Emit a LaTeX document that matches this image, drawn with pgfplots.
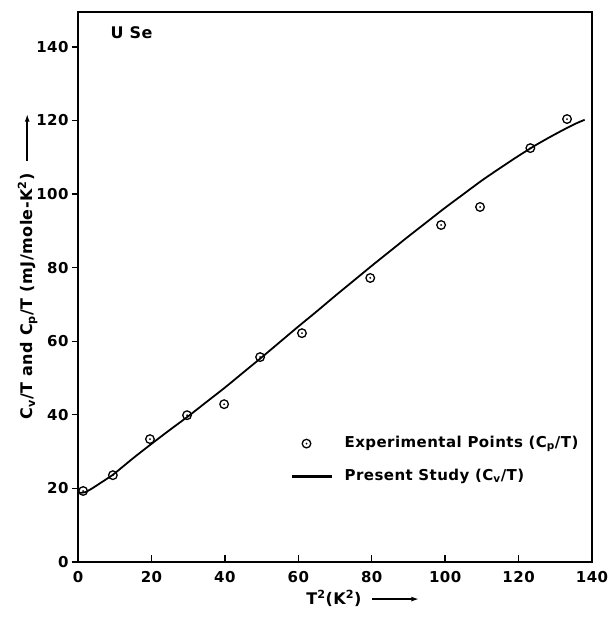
\documentclass[border=0pt]{standalone}
\usepackage{fontspec}
\setmainfont{DejaVu Sans}[LetterSpace=3]
\usepackage{pgfplots}
\pgfplotsset{compat=1.18}
\usetikzlibrary{arrows.meta}
% circle with a dot in the middle
\pgfdeclareplotmark{odot}{%
  \pgfpathcircle{\pgfpointorigin}{\pgfplotmarksize}\pgfusepathqstroke
  \pgfpathcircle{\pgfpointorigin}{1pt}\pgfusepathqfill}
\pgfplotsset{
  markleg/.style={legend image code/.code={\draw[##1, line width=1.3pt] plot coordinates {(15pt,0pt)}; \path (0pt,0pt) (40pt,0pt);}},
  lineleg/.style={legend image code/.code={\draw[black, line width=2.2pt] (0pt,0pt) -- (40pt,0pt);}},
}
\newcommand{\arr}{\tikz[baseline=-0.6ex]\draw[line width=1.7pt,-{Latex[length=8pt,width=5pt]}] (0,0)--(47pt,0);}
\begin{document}
\begin{tikzpicture}[font=\bfseries]
\begin{axis}[
    scale only axis,
    width=514pt, height=550pt,
    xmin=0, xmax=140, ymin=0, ymax=149.5,
    xtick={0,20,...,140}, ytick={0,20,...,140},
    xtick pos=bottom, ytick pos=left,
    tick align=outside, major tick length=6pt,
    x tick style={yshift=7pt},
    axis line style={line width=1.6pt},
    tick style={line width=1.3pt, black},
    /pgf/number format/assume math mode=true,
    ticklabel style={font=\bfseries\fontsize{15}{18}\selectfont},
    xlabel={T\textsuperscript{2}(K\textsuperscript{2})\hspace{10pt}\arr},
    xlabel style={at={(ticklabel cs:0.555)}, font=\bfseries\fontsize{16}{19}\selectfont},
    ylabel={C\textsubscript{v}/T and C\textsubscript{p}/T (mJ/mole-K\textsuperscript{2})\hspace{12pt}\arr},
    ylabel style={at={(ticklabel cs:0.538,-8pt)}, font=\bfseries\fontsize{16}{19}\selectfont},
    legend style={draw=none, fill=none, at={(axis cs:57.8,27.7)}, anchor=west,
        inner sep=0pt, column sep=12pt, row sep=18pt,
        font=\bfseries\fontsize{15}{18}\selectfont,
        nodes={inner sep=0pt, text height=11pt, text depth=4pt}},
    legend cell align=left,
]
\addplot[only marks, mark=odot, mark size=4.3pt, line width=1.3pt, markleg]
coordinates {
    (1.4,19.3) (9.5,23.6) (19.6,33.4) (29.7,39.9) (39.8,42.9) (49.6,55.7)
    (61.0,62.2) (79.6,77.2) (98.9,91.6) (109.5,96.5) (123.2,112.5) (133.2,120.4)
};
\addlegendentry{Experimental Points (C\textsubscript{p}/T)}
\addplot[smooth, no marks, line width=1.8pt, lineleg]
coordinates {
    (0.5,18.8) (2,19.0) (4,20.1) (6,21.4) (8,22.7) (10,24.1) (15,28.2)
    (20,32.1) (25,35.9) (30,39.6) (35,43.5) (40,47.4) (45,51.5) (50,55.6)
    (55,59.8) (60,64.0) (65,68.1) (70,72.3) (75,76.4) (80,80.5) (85,84.5)
    (90,88.5) (95,92.4) (100,96.3) (105,100.0) (110,103.7) (115,107.1)
    (120,110.4) (125,113.5) (130,116.3) (135,118.9) (138,120.2)
};
\addlegendentry{Present Study (C\textsubscript{v}/T)}
\node[anchor=west, font=\bfseries\fontsize{16}{19}\selectfont] at (axis cs:7.9,143.8) {U Se};
\coordinate (O) at (rel axis cs:0,0);
\end{axis}
\path (O) ++(-78pt,-55pt) rectangle ++(615pt,617pt);
\end{tikzpicture}
\end{document}
